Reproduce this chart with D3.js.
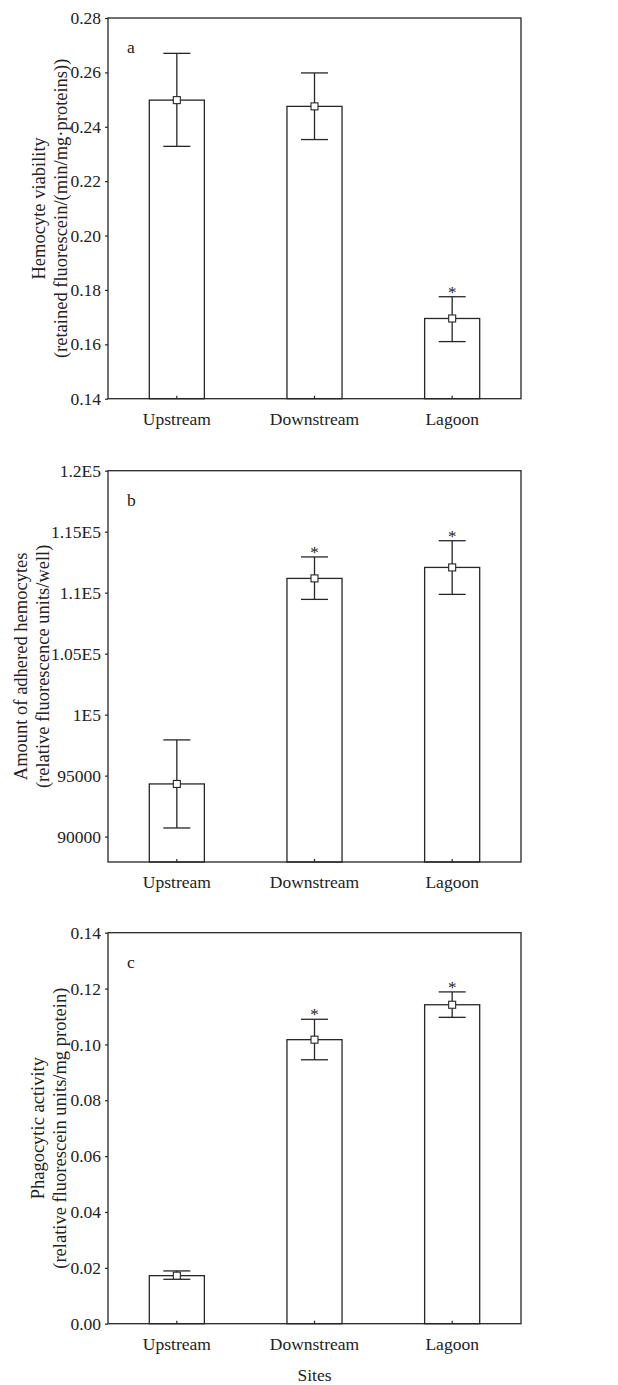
<!DOCTYPE html>
<html>
<head>
<meta charset="utf-8">
<script src="https://d3js.org/d3.v7.min.js"></script>
<style>
  body { margin: 0; background: #fff; }
  svg text { font-family: "Liberation Serif", "Times New Roman", serif; fill: #222; }
</style>
</head>
<body>
<div id="chart"></div>
<script>
// sites along the x axis
var sites = ['Upstream', 'Downstream', 'Lagoon'];

// panel a - hemocyte viability
var viabilityMean = [0.2498, 0.2475, 0.1695];
var viabilityLow  = [0.2328, 0.2353, 0.1610];
var viabilityHigh = [0.2670, 0.2598, 0.1775];
var viabilitySig  = [false, false, true];
var viabilityTicks = [0.14, 0.16, 0.18, 0.20, 0.22, 0.24, 0.26, 0.28];
var viabilityTickLabels = ['0.14', '0.16', '0.18', '0.20', '0.22', '0.24', '0.26', '0.28'];

// panel b - adhered hemocytes
var adheredMean = [94320, 111170, 112070];
var adheredLow  = [90710, 109450, 109860];
var adheredHigh = [97930, 112930, 114260];
var adheredSig  = [false, true, true];
var adheredTicks = [90000, 95000, 100000, 105000, 110000, 115000, 120000];
var adheredTickLabels = ['90000', '95000', '1E5', '1.05E5', '1.1E5', '1.15E5', '1.2E5'];

// panel c - phagocytic activity
var phagoMean = [0.0172, 0.1017, 0.1142];
var phagoLow  = [0.0159, 0.0945, 0.1097];
var phagoHigh = [0.0189, 0.1090, 0.1188];
var phagoSig  = [false, true, true];
var phagoTicks = [0.00, 0.02, 0.04, 0.06, 0.08, 0.10, 0.12, 0.14];
var phagoTickLabels = ['0.00', '0.02', '0.04', '0.06', '0.08', '0.10', '0.12', '0.14'];

var W = 618, H = 1385;
var left = 108, right = 521;
var ink = '#262626';

var svg = d3.select('#chart').append('svg')
    .attr('width', W)
    .attr('height', H);

function draw_panel(p) {

    var xScale = d3.scaleBand()
        .domain(sites)
        .range([left, right])
        .paddingInner(0.6)
        .paddingOuter(0.3);

    var yScale = d3.scaleLinear()
        .domain(p.domain)
        .range([p.bottom, p.top]);

    var g = svg.append('g');

    var rows = sites.map(function(s, i) {
        return { site: s, mean: p.mean[i], low: p.low[i], high: p.high[i], sig: p.sig[i] };
    });

    // bars
    g.selectAll('rect.bar')
        .data(rows)
        .enter()
        .append('rect')
        .attr('class', 'bar')
        .attr('x', function(d) { return xScale(d.site); })
        .attr('y', function(d) { return yScale(d.mean); })
        .attr('width', xScale.bandwidth())
        .attr('height', function(d) { return p.bottom - yScale(d.mean); })
        .attr('fill', '#fff')
        .attr('stroke', ink)
        .attr('stroke-width', 1.3);

    var capW = 13.5;
    var cx = function(d) { return xScale(d.site) + xScale.bandwidth() / 2; };

    // error bars
    g.selectAll('line.err')
        .data(rows)
        .enter()
        .append('line')
        .attr('x1', cx).attr('x2', cx)
        .attr('y1', function(d) { return yScale(d.low); })
        .attr('y2', function(d) { return yScale(d.high); })
        .attr('stroke', ink)
        .attr('stroke-width', 1.3);

    ['low', 'high'].forEach(function(k) {
        g.selectAll('line.cap' + k)
            .data(rows)
            .enter()
            .append('line')
            .attr('x1', function(d) { return cx(d) - capW; })
            .attr('x2', function(d) { return cx(d) + capW; })
            .attr('y1', function(d) { return yScale(d[k]); })
            .attr('y2', function(d) { return yScale(d[k]); })
            .attr('stroke', ink)
            .attr('stroke-width', 1.3);
    });

    // mean markers
    g.selectAll('rect.mk')
        .data(rows)
        .enter()
        .append('rect')
        .attr('x', function(d) { return cx(d) - 3.5; })
        .attr('y', function(d) { return yScale(d.mean) - 3.5; })
        .attr('width', 7)
        .attr('height', 7)
        .attr('fill', '#fff')
        .attr('stroke', ink)
        .attr('stroke-width', 1.1);

    // significance stars
    g.selectAll('text.star')
        .data(rows.filter(function(d) { return d.sig; }))
        .enter()
        .append('text')
        .attr('x', cx)
        .attr('y', function(d) { return yScale(d.high) + 1; })
        .attr('text-anchor', 'middle')
        .attr('font-size', 17)
        .text('*');

    // frame
    g.append('rect')
        .attr('x', left)
        .attr('y', p.top)
        .attr('width', right - left)
        .attr('height', p.bottom - p.top)
        .attr('fill', 'none')
        .attr('stroke', ink)
        .attr('stroke-width', 1.3);

    // y axis
    var yAxis = d3.axisLeft(yScale)
        .tickValues(p.ticks)
        .tickFormat(function(d, i) { return p.tickLabels[i]; })
        .tickSize(3)
        .tickPadding(4);

    var ya = g.append('g')
        .attr('transform', 'translate(' + left + ',0)')
        .call(yAxis);
    ya.select('.domain').remove();
    ya.selectAll('line').attr('stroke', ink).attr('stroke-width', 1.2);
    ya.selectAll('text')
        .attr('font-size', 17.5)
        .attr('font-family', '"Liberation Serif", serif')
        .attr('fill', '#222');

    // x axis with small inward ticks
    var xAxis = d3.axisBottom(xScale)
        .tickSize(-3)
        .tickPadding(14);

    var xa = g.append('g')
        .attr('transform', 'translate(0,' + p.bottom + ')')
        .call(xAxis);
    xa.select('.domain').remove();
    xa.selectAll('line').attr('stroke', ink).attr('stroke-width', 1.2);
    xa.selectAll('text')
        .attr('font-size', 17.5)
        .attr('font-family', '"Liberation Serif", serif')
        .attr('fill', '#222');

    // panel letter
    g.append('text')
        .attr('x', 127)
        .attr('y', p.top + 35)
        .attr('font-size', 17.5)
        .text(p.letter);

    // y axis title, two lines
    var midY = (p.top + p.bottom) / 2;
    p.title.forEach(function(t, i) {
        var x = p.titleX + i * 21.5;
        g.append('text')
            .attr('transform', 'translate(' + x + ',' + midY + ') rotate(-90)')
            .attr('text-anchor', 'middle')
            .attr('dy', '0.35em')
            .attr('font-size', 18.5)
            .text(t);
    });
}

draw_panel({
    letter: 'a', top: 18, bottom: 398.7, domain: [0.14, 0.28],
    mean: viabilityMean, low: viabilityLow, high: viabilityHigh, sig: viabilitySig,
    ticks: viabilityTicks, tickLabels: viabilityTickLabels,
    titleX: 39,
    title: ['Hemocyte viability', '(retained fluorescein/(min/mg\u00b7proteins))']
});

draw_panel({
    letter: 'b', top: 470.7, bottom: 862, domain: [87920, 120000],
    mean: adheredMean, low: adheredLow, high: adheredHigh, sig: adheredSig,
    ticks: adheredTicks, tickLabels: adheredTickLabels,
    titleX: 21,
    title: ['Amount of adhered hemocytes', '(relative fluorescence units/well)']
});

draw_panel({
    letter: 'c', top: 932.7, bottom: 1323.7, domain: [0, 0.14],
    mean: phagoMean, low: phagoLow, high: phagoHigh, sig: phagoSig,
    ticks: phagoTicks, tickLabels: phagoTickLabels,
    titleX: 38,
    title: ['Phagocytic activity', '(relative fluorescein units/mg protein)']
});

svg.append('text')
    .attr('x', (left + right) / 2)
    .attr('y', 1381)
    .attr('text-anchor', 'middle')
    .attr('font-size', 17.5)
    .text('Sites');
</script>
</body>
</html>
